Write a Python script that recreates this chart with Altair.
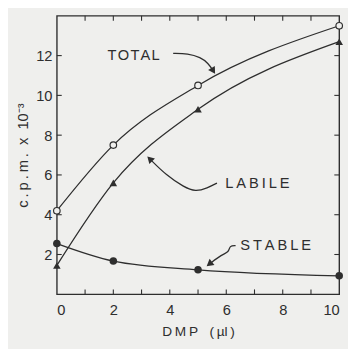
import altair as alt
import pandas as pd

# ---- data ----
dmp = [0, 2, 5, 10]
total = [4.2, 7.5, 10.5, 13.5]
labile = [1.45, 5.6, 9.3, 12.7]
stable = [2.55, 1.67, 1.23, 0.93]

x_labels = [0, 2, 4, 6, 8, 10]
y_labels = [2, 4, 6, 8, 10, 12]
x_ticks = [1, 2, 3, 4, 5, 6, 7, 8, 9]
y_ticks = [2, 4, 6, 8, 10, 12]

# annotation arrows (data coordinates)
total_arrow_x = [4.12, 4.64, 5.09, 5.36, 5.54]
total_arrow_y = [12.11, 12.11, 11.91, 11.62, 11.23]
labile_arrow_x = [5.67, 5.33, 4.91, 4.50, 3.88, 3.29]
labile_arrow_y = [5.59, 5.34, 5.15, 5.39, 5.98, 6.81]
stable_arrow_x = [6.33, 6.12, 6.09, 5.85, 5.40]
stable_arrow_y = [2.45, 2.45, 2.11, 2.01, 1.52]

SP = "\u2009"
HS = "\u200a"
labels_text = [HS.join("TOTAL"), SP.join("LABILE"), SP.join("STABLE")]
labels_x = [2.72, 7.1, 7.75]
labels_y = [12.0, 5.6, 2.45]
head_angles = [148, 315, 232]

W, H = 289, 285
INK = "#2e2e2e"
FONT = "Liberation Sans"
NB = "\u00a0"

x_title = SP.join("DMP") + NB * 3 + "(" + SP + "µl" + SP + ")"
y_title = SP.join("c.p.m.") + NB * 2 + "x" + NB * 2 + "10⁻³"

xs = alt.Scale(domain=[0, 10], nice=False)
ys = alt.Scale(domain=[0, 14], nice=False)

df = pd.DataFrame({"dmp": dmp, "total": total, "labile": labile, "stable": stable})

xenc = alt.X("dmp:Q", scale=xs,
             axis=alt.Axis(values=x_labels, ticks=False, domain=False, grid=False,
                           labelFontSize=15, labelFont=FONT, labelColor=INK, labelPadding=9,
                           title=x_title, titleFont=FONT, titleFontSize=14,
                           titleFontWeight="normal", titleColor=INK, titlePadding=7))


def yenc(field):
    return alt.Y(f"{field}:Q", scale=ys,
                 axis=alt.Axis(values=y_labels, ticks=False, domain=False, grid=False,
                               labelFontSize=15, labelFont=FONT, labelColor=INK, labelPadding=5,
                               title=y_title, titleFont=FONT, titleFontSize=15,
                               titleFontWeight="normal", titleColor=INK, titlePadding=5))


base = alt.Chart(df)
layers = []
for field, shape, filled, size in [("total", "circle", False, 45),
                                   ("labile", "triangle-up", True, 60),
                                   ("stable", "circle", True, 60)]:
    layers.append(base.mark_line(interpolate="monotone", color=INK, strokeWidth=1.3)
                  .encode(x=xenc, y=yenc(field)))
    layers.append(base.mark_point(shape=shape, filled=filled, size=size, color=INK,
                                  fill=INK if filled else "#efefed", strokeWidth=1.2, opacity=1)
                  .encode(x=xenc, y=yenc(field)))

# arrows
for ax_, ay_, ang in [(total_arrow_x, total_arrow_y, head_angles[0]),
                      (labile_arrow_x, labile_arrow_y, head_angles[1]),
                      (stable_arrow_x, stable_arrow_y, head_angles[2])]:
    adf = pd.DataFrame({"x": ax_, "y": ay_, "o": list(range(len(ax_)))})
    layers.append(alt.Chart(adf).mark_line(interpolate="basis", color=INK, strokeWidth=1.3)
                  .encode(x=alt.X("x:Q", scale=xs), y=alt.Y("y:Q", scale=ys), order="o:Q"))
    hdf = pd.DataFrame({"x": [ax_[-1]], "y": [ay_[-1]]})
    layers.append(alt.Chart(hdf).mark_point(shape="triangle-up", filled=True, size=65,
                                            color=INK, opacity=1, angle=ang)
                  .encode(x=alt.X("x:Q", scale=xs), y=alt.Y("y:Q", scale=ys)))

tdf = pd.DataFrame({"t": labels_text, "x": labels_x, "y": labels_y})
layers.append(alt.Chart(tdf).mark_text(font=FONT, fontSize=15, color=INK)
              .encode(x=alt.X("x:Q", scale=xs), y=alt.Y("y:Q", scale=ys), text="t:N"))

# inward ticks
xt = pd.DataFrame({"v": x_ticks})
yt = pd.DataFrame({"v": y_ticks})
tick_style = dict(color=INK, strokeWidth=1.1)
layers.append(alt.Chart(xt).mark_rule(**tick_style)
              .encode(x=alt.X("v:Q", scale=xs), y=alt.value(H), y2=alt.value(H - 5)))
layers.append(alt.Chart(xt).mark_rule(**tick_style)
              .encode(x=alt.X("v:Q", scale=xs), y=alt.value(0), y2=alt.value(5)))
layers.append(alt.Chart(yt).mark_rule(**tick_style)
              .encode(y=alt.Y("v:Q", scale=ys), x=alt.value(0), x2=alt.value(5)))
layers.append(alt.Chart(yt).mark_rule(**tick_style)
              .encode(y=alt.Y("v:Q", scale=ys), x=alt.value(W), x2=alt.value(W - 5)))

chart = alt.layer(*layers).properties(
    width=W, height=H,
    autosize=alt.AutoSizeParams(type="none"),
    padding={"left": 50, "top": 4, "right": 9, "bottom": 52},
    background="#efefed",
).configure_view(stroke=INK, strokeWidth=1.4)

chart.save("out.html", embed_options={"renderer": "svg", "actions": False})
